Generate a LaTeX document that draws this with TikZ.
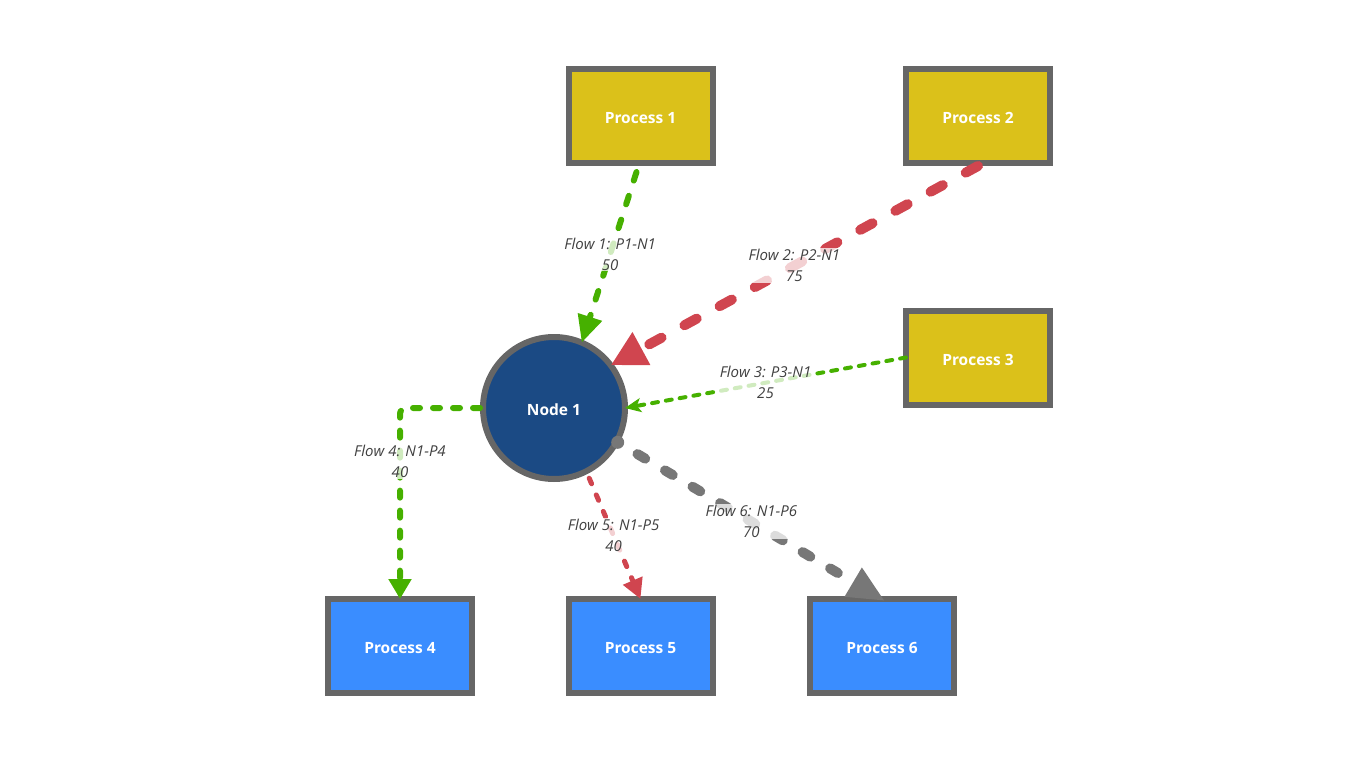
\documentclass[tikz,border=0pt]{standalone}
\usepackage{fontspec}
\setmainfont{Open Sans}
\usetikzlibrary{arrows.meta}
\definecolor{boxborder}{HTML}{666666}
\definecolor{procyellow}{HTML}{DBC11A}
\definecolor{procblue}{HTML}{3A8DFF}
\definecolor{nodeblue}{HTML}{1B4A84}
\definecolor{flowgreen}{HTML}{46B000}
\definecolor{flowred}{HTML}{D0454F}
\definecolor{flowgray}{HTML}{777777}
\definecolor{labeltext}{HTML}{404040}
\tikzset{
  procbox/.style={draw=boxborder, line width=6pt, minimum width=144pt, minimum height=94pt,
    inner sep=0pt, outer sep=0pt, text=white, text height=15pt, text depth=0pt,
    font=\fontsize{15.5}{18}\selectfont\bfseries},
  yellowbox/.style={procbox, fill=procyellow},
  bluebox/.style={procbox, fill=procblue},
  hubnode/.style={circle, draw=boxborder, line width=6pt, fill=nodeblue, minimum size=142pt,
    inner sep=0pt, outer sep=0pt, text=white, text height=15pt, text depth=0pt,
    font=\fontsize{15.5}{18}\selectfont\bfseries},
  flow/.style={line cap=round, line join=round},
  flowlabel/.style={fill=white, fill opacity=0.75, text opacity=1, text=labeltext,
    inner sep=1pt, align=center, font=\fontsize{15}{21}\selectfont\itshape},
}
\begin{document}
\begin{tikzpicture}[x=1pt,y=-1pt]
\useasboundingbox (0,0) rectangle (1366,768);
% nodes
\node[yellowbox] (p1) at (640.5,116) {Process 1};
\node[yellowbox] (p2) at (978,116) {Process 2};
\node[yellowbox] (p3) at (978,357.5) {Process 3};
\node[bluebox] (p4) at (400,646) {Process 4};
\node[bluebox] (p5) at (640.5,646) {Process 5};
\node[bluebox] (p6) at (882,646) {Process 6};
\node[hubnode] (n1) at (554,408) {Node 1};
% anchor points for flow ends
\coordinate (f1s) at ([shift={(-4,9)}]p1.south);
\coordinate (f2s) at ([shift={(0,3)}]p2.south);
\coordinate (f5s) at ([shift={(3,7)}]n1.-63);
\coordinate (f6s) at ([shift={(1,1)}]n1.-28);
\coordinate (f6e) at ([shift={(3,2)}]p6.north);
% flows
\draw[flow, flowgreen, line width=6pt, dash pattern=on 9pt off 16pt,
  -{Triangle[length=27pt,width=24pt]}]
  (f1s) -- (n1.67)
  node[flowlabel, pos=0.48] {Flow 1: P1-N1\\50};
\draw[flow, flowred, line width=10pt, dash pattern=on 14pt off 26pt,
  -{Triangle[length=35pt,width=35pt]}]
  (f2s) -- (n1.37)
  node[flowlabel, pos=0.5] {Flow 2: P2-N1\\75};
\draw[flow, flowgreen, line width=4pt, dash pattern=on 6pt off 8pt,
  -{Stealth[length=16pt,width=14pt,inset=4pt]}]
  (p3.west) -- (n1.east)
  node[flowlabel, pos=0.5] {Flow 3: P3-N1\\25};
\draw[flow, flowgreen, line width=6pt, dash pattern=on 7pt off 13pt, rounded corners=6pt,
  -{Triangle[length=20pt,width=22pt]}]
  ([shift={(-3,0)}]n1.west) -| (p4.north)
  node[flowlabel, pos=0.64] {Flow 4: N1-P4\\40};
\draw[flow, flowred, line width=5pt, dash pattern=on 6pt off 12pt,
  -{Triangle[length=20pt,width=20pt]}]
  (f5s) -- (p5.north)
  node[flowlabel, pos=0.475] {Flow 5: N1-P5\\40};
\fill[flowgray] (f6s) circle[radius=6.5pt];
\draw[flow, flowgray, line width=10pt, dash pattern=on 9pt off 23pt, dash phase=9pt,
  -{Triangle[length=37pt,width=31pt]}]
  (f6s) -- (f6e)
  node[flowlabel, pos=0.5] {Flow 6: N1-P6\\70};
\end{tikzpicture}
\end{document}
